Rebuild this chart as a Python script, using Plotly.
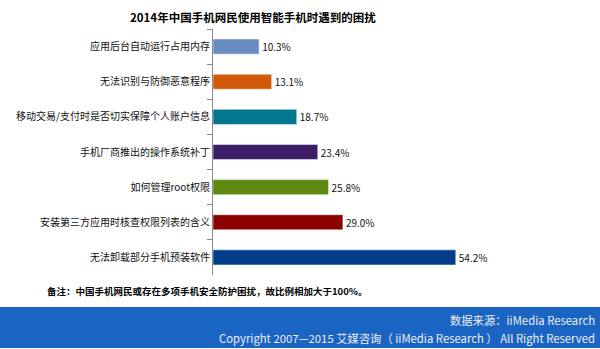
import plotly.graph_objects as go

# Survey results: problems users meet when using smartphones (2014)
categories = [
    "应用后台自动运行占用内存",
    "无法识别与防御恶意程序",
    "移动交易/支付时是否切实保障个人账户信息",
    "手机厂商推出的操作系统补丁",
    "如何管理root权限",
    "安装第三方应用时核查权限列表的含义",
    "无法卸载部分手机预装软件",
]
values = [10.3, 13.1, 18.7, 23.4, 25.8, 29.0, 54.2]
bar_colors = ["#6b8cc3", "#d05a0a", "#00778f", "#3e1e6a", "#5f8a12", "#8c0000", "#003f87"]

title_text = "2014年中国手机网民使用智能手机时遇到的困扰"
note_text = "备注：中国手机网民或存在多项手机安全防护困扰，故比例相加大于100%。"
source_text = "数据来源：iiMedia Research"
copyright_text = "Copyright 2007—2015 艾媒咨询（ iiMedia Research ） All Right Reserved"

W, H = 600, 349
L, R, T, B = 213, 0, 29, 74
plot_w = W - L - R
plot_h = H - T - B

def px_x(x):
    return (x - L) / plot_w

def px_y(y):
    return (H - B - y) / plot_h

FONT = "Noto Sans CJK SC"

fig = go.Figure(
    go.Bar(
        x=values,
        y=categories,
        orientation="h",
        width=0.43,
        marker=dict(color=bar_colors, line=dict(color="rgba(255,255,255,0.5)", width=1)),
        text=[f"{v:.1f}%" for v in values],
        textposition="outside",
        textfont=dict(family=FONT, size=10, color="#111111"),
        cliponaxis=False,
        hoverinfo="skip",
    )
)

fig.update_layout(
    width=W,
    height=H,
    margin=dict(l=L, r=R, t=T, b=B),
    paper_bgcolor="white",
    plot_bgcolor="white",
    showlegend=False,
    font=dict(family=FONT, color="#111111"),
    xaxis=dict(range=[0, 86.4], visible=False, fixedrange=True),
    yaxis=dict(
        type="category",
        autorange="reversed",
        tickson="boundaries",
        ticks="outside",
        ticklen=5,
        tickcolor="#8a8a8a",
        showline=True,
        linecolor="#8a8a8a",
        linewidth=1,
        showgrid=False,
        tickfont=dict(family=FONT, size=10, color="#111111"),
        fixedrange=True,
    ),
    shapes=[
        dict(
            type="rect",
            xref="paper",
            yref="paper",
            x0=px_x(0),
            x1=px_x(W),
            y0=px_y(307),
            y1=px_y(348),
            fillcolor="#1a64c4",
            line=dict(width=0),
            layer="below",
        )
    ],
    annotations=[
        dict(
            text=f"<b>{title_text}</b>",
            xref="paper", yref="paper",
            x=px_x(253), y=px_y(17),
            xanchor="center", yanchor="middle",
            showarrow=False,
            font=dict(family=FONT, size=11.5, color="#000000"),
        ),
        dict(
            text=f"<b>{note_text}</b>",
            xref="paper", yref="paper",
            x=px_x(45), y=px_y(291),
            xanchor="left", yanchor="middle",
            showarrow=False,
            font=dict(family=FONT, size=9.5, color="#000000"),
        ),
        dict(
            text=source_text,
            xref="paper", yref="paper",
            x=px_x(597), y=px_y(320),
            xanchor="right", yanchor="middle",
            showarrow=False,
            font=dict(family=FONT, size=11.3, color="#eeeeee"),
        ),
        dict(
            text=copyright_text,
            xref="paper", yref="paper",
            x=px_x(597), y=px_y(338),
            xanchor="right", yanchor="middle",
            showarrow=False,
            font=dict(family=FONT, size=11.3, color="#eeeeee"),
        ),
    ],
)

fig.write_html("out.html")
